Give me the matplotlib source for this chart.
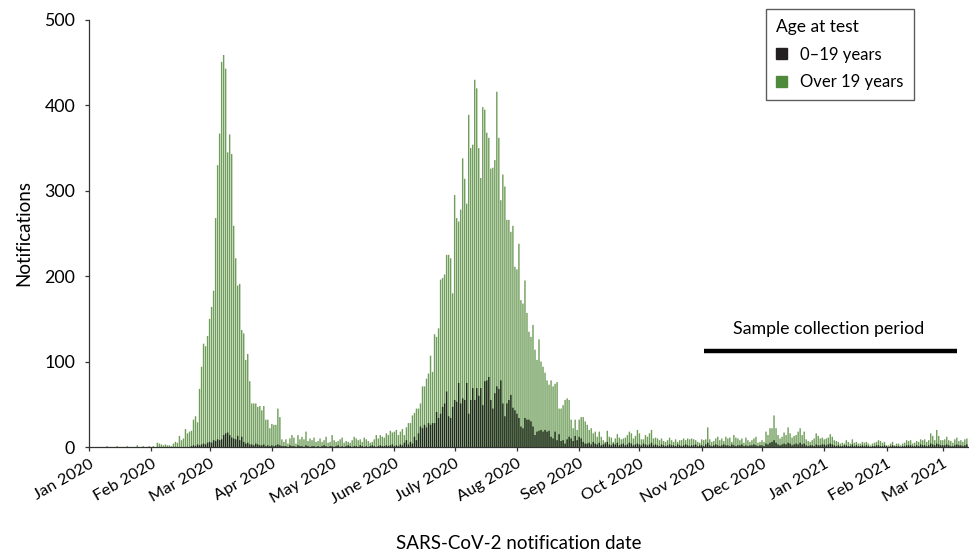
import numpy as np
import matplotlib
matplotlib.use("Agg")
import matplotlib.pyplot as plt
from matplotlib.patches import Patch

plt.rcParams['font.family'] = ['Lato', 'DejaVu Sans']

# daily notifications, one list per month (Jan 2020 .. 13 Mar 2021)
over19_by_month = [
    [0,0,0,0,0,0,0,0,0,1,0,0,0,0,1,0,0,0,0,1,0,0,0,0,2,0,0,1,0,0,1],
    [0,1,0,5,4,3,2,3,2,2,1,4,6,5,13,8,10,21,16,18,19,32,36,29,68,94,121,118,130],
    [150,164,183,268,330,367,451,459,443,345,366,343,259,221,189,191,137,133,102,109,
     77,51,51,51,47,48,43,48,32,32,22],
    [27,26,26,45,35,9,6,9,4,10,14,11,4,14,9,12,9,18,7,10,8,11,6,7,10,6,8,12,5,6],
    [14,8,6,7,9,11,5,7,6,5,8,12,10,8,9,6,11,9,7,5,6,9,14,10,14,12,11,16,14,19,17],
    [18,20,14,18,21,14,23,28,28,37,40,45,45,51,71,71,80,86,107,88,132,129,139,196,198,
     202,225,225,221,180],
    [295,268,264,278,338,314,285,389,350,354,430,420,350,315,398,395,368,362,326,327,
     336,416,362,289,319,305,266,266,252,259,211],
    [208,238,172,168,195,157,135,129,143,114,102,126,100,94,87,78,73,78,71,74,76,45,45,
     49,55,57,55,32,22,32,20],
    [32,35,35,30,26,20,22,16,18,12,18,12,8,6,19,12,11,6,10,15,11,9,10,11,14,18,16,10,13,20],
    [16,9,9,14,12,16,20,10,11,10,8,10,7,6,8,11,8,6,9,6,8,8,10,8,10,9,10,9,8,6,5],
    [9,8,9,23,9,6,7,10,12,8,10,7,12,10,11,6,14,11,10,8,10,5,11,8,6,8,10,12,5,6],
    [8,6,18,14,22,22,37,22,14,10,12,17,14,23,16,11,13,14,18,22,14,18,9,7,6,8,10,16,13,10,11],
    [9,10,11,15,12,8,7,6,4,5,4,8,6,4,9,5,6,4,4,6,5,6,4,2,4,5,6,8,7,5,6],
    [2,2,4,6,2,4,4,2,4,5,8,7,8,4,5,7,6,9,8,9,6,8,16,13,8,20,13,8],
    [8,9,12,8,7,5,9,11,7,8,6,9,10],
]
under19_by_month = [
    [0]*31,
    [0]*20 + [1,2,1,3,2,3,4,3,5],
    [6,5,8,7,9,8,9,14,16,17,14,11,10,9,13,8,12,6,4,5,3,3,2,4,3,2,2,3,1,2,1],
    [2,1,2,3,2,1,1,1,0,2,1,1,0,2,1,1,0,2,1,0,1,1,0,1,0,1,2,1,0,1],
    [1,0,1,2,0,1,0,1,2,1,0,1,1,0,2,1,0,1,0,1,2,1,0,1,2,1,1,2,1,2,3],
    [1,2,1,3,2,5,8,3,6,4,12,8,16,24,22,26,23,28,26,28,28,41,34,39,47,51,65,36,34,47],
    [55,53,75,51,57,55,75,39,55,69,55,69,60,69,49,77,78,82,55,45,63,71,68,78,51,36,51,
     55,61,46,43],
    [39,34,24,22,34,32,32,30,24,14,18,19,20,18,20,18,19,12,10,18,8,15,7,8,4,9,12,10,7,13,8],
    [12,10,6,4,4,5,3,6,4,3,5,2,3,4,6,3,2,4,3,5,2,3,4,2,3,5,4,2,3,4],
    [3,2,4,3,2,3,5,2,3,2,1,3,2,1,2,3,2,2,1,3,2,1,2,3,2,1,2,2,3,1,2],
    [2,1,3,5,2,1,2,3,2,1,2,3,2,2,1,3,2,1,2,2,3,1,2,1,2,2,3,2,1,2],
    [2,1,4,3,5,6,8,5,3,2,3,4,3,5,4,2,3,4,3,5,3,4,2,1,2,2,1,3,2,2,3],
    [3,2,3,4,3,2,1,2,1,1,2,2,1,1,3,1,2,1,1,2,1,2,1,0,1,1,2,2,1,1,2],
    [1,0,1,2,1,1,1,0,1,1,2,2,2,1,1,2,1,3,2,2,1,2,4,3,2,4,3,2],
    [2,2,3,2,1,1,2,3,2,2,1,2,3],
]
month_labels = ["Jan 2020", "Feb 2020", "Mar 2020", "Apr 2020", "May 2020", "June 2020",
                "July 2020", "Aug 2020", "Sep 2020", "Oct 2020", "Nov 2020", "Dec 2020",
                "Jan 2021", "Feb 2021", "Mar 2021"]
month_lengths = [31, 29, 31, 30, 31, 30, 31, 31, 30, 31, 30, 31, 31, 28, 31]

over19 = np.concatenate([np.array(m) for m in over19_by_month])
under19 = np.concatenate([np.array(m) for m in under19_by_month])
month_starts = np.concatenate([[0], np.cumsum(month_lengths)[:-1]])

fig = plt.figure(figsize=(9.7, 5.52), dpi=100)
ax = fig.add_axes([0.0918, 0.1902, 0.906, 0.7736])

# no snapping, so the thin bars blend softly like the original
ax.bar(np.arange(len(over19)), over19, width=0.7, color='#6f9d5a', linewidth=0,
       snap=False)
ax.bar(np.arange(len(under19)), under19, width=0.7, color='#1f2b1b', linewidth=0,
       snap=False)

# sample collection period
ax.plot([306, 432], [113, 113], color='black', lw=3.2, solid_capstyle='butt')
ax.text(368, 138, "Sample collection period", ha='center', va='center', fontsize=12.8)

ax.set_xlim(0, 437.5)
ax.set_ylim(0, 500)
ax.set_yticks([0, 100, 200, 300, 400, 500])
ax.set_xticks(month_starts)
ax.set_xticklabels(month_labels, rotation=30, ha='right', rotation_mode='anchor')
ax.tick_params(axis='x', labelsize=11.8, length=3, width=0.9, color='#333333', pad=4)
ax.tick_params(axis='y', labelsize=12.8, length=3, width=0.9, color='#333333', pad=7)

for s in ['top', 'right']:
    ax.spines[s].set_visible(False)
for s in ['left', 'bottom']:
    ax.spines[s].set_linewidth(0.9)
    ax.spines[s].set_color('#333333')

ax.set_ylabel("Notifications", fontsize=13.5, labelpad=9)
fig.text(0.535, 0.0, "SARS-CoV-2 notification date", ha='center', va='bottom',
         fontsize=13.5)

handles = [Patch(color='#231f20', label='0\u201319 years'),
           Patch(color='#4f8a3c', label='Over 19 years')]
leg = ax.legend(handles=handles, title='Age at test', loc='upper right',
                bbox_to_anchor=(0.948, 1.045), fontsize=12, title_fontsize=12.5,
                frameon=True, fancybox=False, edgecolor='#333333', handlelength=0.65,
                handleheight=0.65, handletextpad=0.8, borderpad=0.6, labelspacing=0.7,
                alignment='left')
leg.get_frame().set_linewidth(1.0)

fig.savefig("out.png", dpi=100)
